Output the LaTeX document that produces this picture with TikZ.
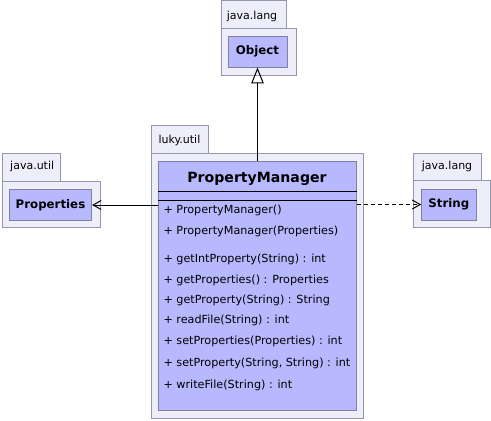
\documentclass[tikz,border=0pt]{standalone}
\usepackage{fontspec}
\setmainfont{DejaVu Sans}
\usetikzlibrary{arrows.meta}
\definecolor{boxfill}{RGB}{184,184,255}
\definecolor{boxline}{RGB}{128,128,160}
\definecolor{pkgfill}{RGB}{238,238,250}
\definecolor{pkgline}{RGB}{150,150,170}
\tikzset{
  pkg/.style={draw=pkgline, fill=pkgfill, line width=0.9pt},
  pkglabel/.style={anchor=west, inner sep=0pt, font=\fontsize{11}{13}\selectfont},
  inner/.style={draw=boxline, fill=boxfill, line width=0.9pt, inner sep=0pt,
    font=\bfseries\fontsize{11.8}{14}\selectfont},
  member/.style={anchor=west, inner sep=0pt, font=\fontsize{11.2}{13}\selectfont},
  rel/.style={line width=1pt},
}
\begin{document}
\begin{tikzpicture}[x=1pt,y=-1pt]
\useasboundingbox (0,0) rectangle (491,421);
% packages
\draw[pkg] (221,0.5) rectangle (286.5,28);
\draw[pkg] (221,28) rectangle (296.5,75);
\node[pkglabel] (tabobj) at (226.7,16) {java.lang};
\draw[pkg] (2.7,153.3) rectangle (60,181.7);
\draw[pkg] (2.7,181.7) rectangle (100,227);
\node[pkglabel] (tabprops) at (10,166.7) {java.util};
\draw[pkg] (413.3,153.3) rectangle (481.7,180.7);
\draw[pkg] (413.3,180.7) rectangle (490,227.3);
\node[pkglabel] (tabstr) at (421.7,166.7) {java.lang};
\draw[pkg] (151,125) rectangle (208.3,153.3);
\draw[pkg] (151,153.3) rectangle (363,418);
\node[pkglabel] (tabluky) at (158.3,140) {luky.util};
% inner classes
\node[inner, minimum width=59pt, minimum height=31pt] (obj) at (257.5,51.5) {Object};
\node[inner, minimum width=82.4pt, minimum height=31.7pt] (props) at (50.5,205) {Properties};
\node[inner, minimum width=54.3pt, minimum height=31pt] (str) at (448.8,204.5) {String};
\node[inner, minimum width=197.4pt, minimum height=248.3pt] (pm) at (257.5,285.85) {};
\node[font=\bfseries\fontsize{14.1}{16}\selectfont, inner sep=0pt] (pmname) at (257,179) {PropertyManager};
\draw[line width=0.9pt] (pm.west |- 0,191) -- (pm.east |- 0,191);
\draw[line width=0.9pt] (pm.west |- 0,200) -- (pm.east |- 0,200);
\node[member] (m1) at (163.3,210) {+ PropertyManager()};
\node[member] (m2) at (163.3,231.7) {+ PropertyManager(Properties)};
\node[member] (m3) at (163.3,259.3) {+ getIntProperty(String) : int};
\node[member] (m4) at (163.3,280) {+ getProperties() : Properties};
\node[member] (m5) at (163.3,300.7) {+ getProperty(String) : String};
\node[member] (m6) at (163.3,320.7) {+ readFile(String) : int};
\node[member] (m7) at (163.3,341.7) {+ setProperties(Properties) : int};
\node[member] (m8) at (163.3,363.3) {+ setProperty(String, String) : int};
\node[member] (m9) at (163.3,385) {+ writeFile(String) : int};
% relations
\draw[rel, -{Triangle[open, length=16pt, width=12.5pt]}] (pm.north) -- (obj.south);
\draw[rel, -{Straight Barb[length=8pt, width=9pt]}] (pm.west |- props.east) -- (props.east);
\draw[rel, dash pattern=on 4pt off 3pt, -{Straight Barb[length=8pt, width=9pt]}] (pm.east |- str.west) -- (str.west);
\end{tikzpicture}
\end{document}
